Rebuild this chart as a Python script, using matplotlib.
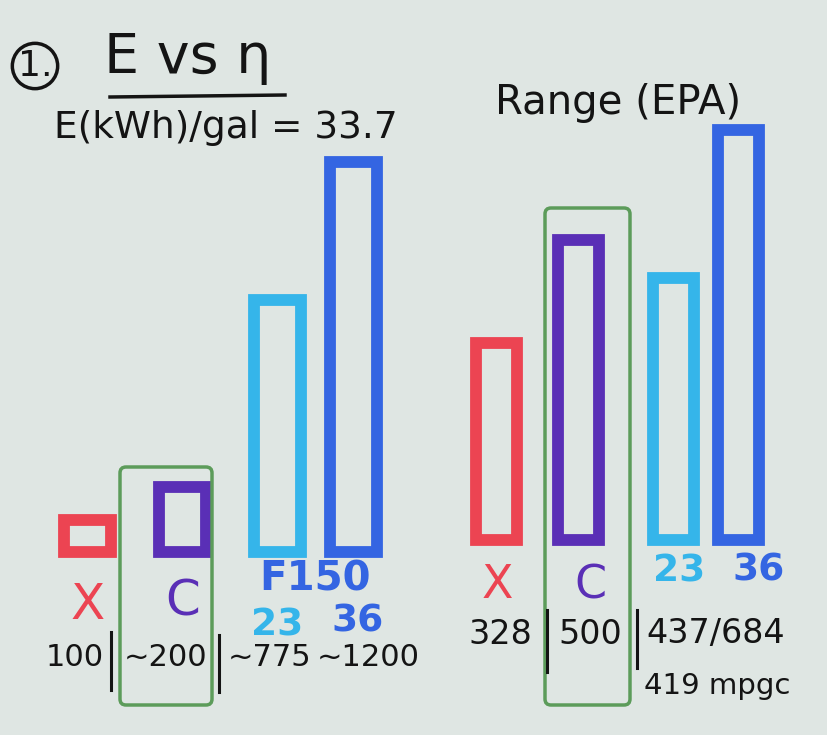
import matplotlib.pyplot as plt
from matplotlib.patches import FancyBboxPatch
from matplotlib.lines import Line2D
from matplotlib.transforms import IdentityTransform

cars = ['X', 'C', '23', '36']
energy = [100, 200, 775, 1200]
energy_labels = ['100', '~200', '~775', '~1200']
epa_range = [328, 500, 437, 684]
range_labels = ['328', '500', '437/684']
mpge_note = '419 mpgc'
bar_colors = ['#ec4452', '#5a2fb6', '#35b5ea', '#3465e2']

W, H = 828, 735
ink = '#141414'
green = '#5c9c5a'


def fx(x):
    return x / W


def fy(y):
    return 1 - y / H


fig = plt.figure(figsize=(W / 100, H / 100), dpi=100, facecolor='#dfe6e3')

# left group: energy, right group: EPA range
ax1 = fig.add_axes([fx(40), fy(552), 380 / W, 450 / H])
ax2 = fig.add_axes([fx(456), fy(540), 328 / W, 450 / H])
pos1 = [0, 1, 2, 2.8]
pos2 = [0, 1, 2.15, 2.95]

for ax, pos, vals, ymax in [(ax1, pos1, energy, 1385), (ax2, pos2, epa_range, 750)]:
    bars = ax.bar(pos, vals, width=0.5, facecolor='none', edgecolor=bar_colors, linewidth=8.5)
    for b in bars:
        b.set_clip_on(False)
        b.set_joinstyle('miter')
    ax.set_xlim(-0.5, 3.5)
    ax.set_ylim(0, ymax)
    ax.axis('off')

# car labels under the bars: (dx, dy) offsets in points, font size
left_lab = [(0, -38, 36), (0, -36, 36), (0, -53, 27), (3, -50, 27)]
right_lab = [(0, -33, 33), (8, -33, 33), (4, -23, 27), (14, -22, 27)]
for ax, pos, offs in [(ax1, pos1, left_lab), (ax2, pos2, right_lab)]:
    for p, name, col, (dx, dy, fs) in zip(pos, cars, bar_colors, offs):
        ax.annotate(name, (p, 0), xytext=(dx, dy), textcoords='offset points',
                    ha='center', va='center', fontsize=fs, color=col,
                    fontweight='bold' if name[0].isdigit() else 'normal',
                    annotation_clip=False)
ax1.annotate('F150', ((pos1[2] + pos1[3]) / 2, 0), xytext=(0, -20), textcoords='offset points',
             ha='center', va='center', fontsize=29, fontweight='bold', color=bar_colors[3],
             annotation_clip=False)

# headings
fig.text(fx(35), fy(66), '1.', ha='center', va='center', fontsize=26, color=ink,
         bbox=dict(boxstyle='circle,pad=0.15', fc='none', ec=ink, lw=2.5))
fig.text(fx(104), fy(58), 'E vs η', ha='left', va='center', fontsize=40, color=ink)
fig.add_artist(Line2D([fx(110), fx(285)], [fy(97), fy(95)], color=ink, lw=2.5))
fig.text(fx(54), fy(128), 'E(kWh)/gal = 33.7', ha='left', va='center', fontsize=27, color=ink)
fig.text(fx(495), fy(103), 'Range (EPA)', ha='left', va='center', fontsize=29, color=ink)

# value rows
for x, s in zip([75, 166, 270, 368], energy_labels):
    fig.text(fx(x), fy(657), s, ha='center', va='center', fontsize=22, color=ink)
for x, s in zip([500, 590, 716], range_labels):
    fig.text(fx(x), fy(634), s, ha='center', va='center', fontsize=24, color=ink)
fig.text(fx(717), fy(686), mpge_note, ha='center', va='center', fontsize=21, color=ink)
for x, y0, y1 in [(111, 632, 690), (219, 635, 692), (547, 610, 672), (637, 610, 668)]:
    fig.add_artist(Line2D([fx(x), fx(x)], [fy(y0), fy(y1)], color=ink, lw=2.2))

# green highlight boxes around the C columns
for x0, y0, x1, y1 in [(120, 467, 212, 705), (545, 208, 630, 705)]:
    fig.add_artist(FancyBboxPatch((x0, H - y1), x1 - x0, y1 - y0,
                                  boxstyle='round,pad=0,rounding_size=6',
                                  fc='none', ec=green, lw=2.5, transform=IdentityTransform()))

fig.savefig('out.png', dpi=100, facecolor=fig.get_facecolor())
